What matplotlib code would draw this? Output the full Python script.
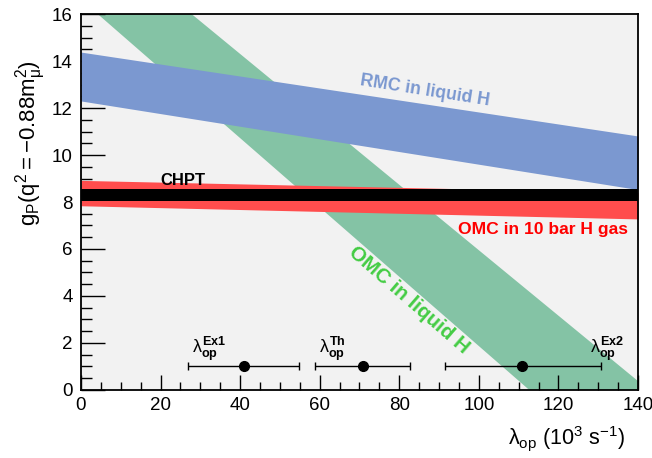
import matplotlib
matplotlib.use("Agg")
import matplotlib.pyplot as plt
from matplotlib.ticker import MultipleLocator
import numpy as np

plt.rcParams['font.family'] = ['Liberation Sans', 'DejaVu Sans']
plt.rcParams['mathtext.fontset'] = 'custom'
plt.rcParams['mathtext.rm'] = 'Liberation Sans'
plt.rcParams['mathtext.it'] = 'Liberation Sans'
plt.rcParams['mathtext.bf'] = 'Liberation Sans:bold'

# ---- data ----
lam = [0, 140]                      # x at band endpoints (1e3 s^-1)
rmc_upper = [14.38, 10.81]
rmc_lower = [12.30, 8.53]
omc_liq_upper = [19.87, 0.38]
omc_liq_lower = [16.62, -4.03]
omc_gas_upper = [8.92, 8.40]
omc_gas_lower = [7.84, 7.28]
chpt_upper = [8.57, 8.57]
chpt_lower = [8.04, 8.04]

lam_points = [40.9, 70.9, 110.8]
lam_err_lo = [13.95, 12.0, 19.4]
lam_err_hi = [13.9, 11.9, 19.8]
gp_points = [1.0, 1.0, 1.0]
point_names = ['Ex1', 'Th', 'Ex2']

fig = plt.figure(figsize=(6.52, 4.58), dpi=100)
ax = fig.add_axes([0.1242, 0.1485, 0.9785 - 0.1242, 0.9694 - 0.1485])
ax.set_facecolor('#f2f2f2')

ax.fill_between(lam, omc_liq_lower, omc_liq_upper, color='#84c3a5', lw=0, zorder=1)
ax.fill_between(lam, rmc_lower, rmc_upper, color='#7b98d0', lw=0, zorder=2)
ax.fill_between(lam, omc_gas_lower, omc_gas_upper, color='#ff4d4d', lw=0, zorder=3)
ax.fill_between(lam, chpt_lower, chpt_upper, color='black', lw=0, zorder=4)

ax.errorbar(lam_points, gp_points, xerr=[lam_err_lo, lam_err_hi], fmt='o', color='black',
            ms=7, elinewidth=1.0, capsize=3, capthick=1.0, zorder=6)

label_x = [27.8, 59.8, 127.9]
for lx, name in zip(label_x, point_names):
    ax.text(lx, 1.75, r'$\lambda_{\mathbf{op}}^{\mathbf{%s}}$' % name, fontsize=13,
            ha='left', va='center', zorder=7)

ax.text(86.5, 12.75, 'RMC in liquid H', color='#7b98d0', fontsize=12.8, fontweight='bold',
        rotation=-9, ha='center', va='center', zorder=7)
ax.text(82.5, 3.85, 'OMC in liquid H', color='#44cc44', fontsize=14.8, fontweight='bold',
        rotation=-41, ha='center', va='center', zorder=7)
ax.text(116.2, 6.85, 'OMC in 10 bar H gas', color='#ff0000', fontsize=12.6, fontweight='bold',
        ha='center', va='center', zorder=7)
ax.text(19.9, 8.9, 'CHPT', color='black', fontsize=12, fontweight='bold',
        ha='left', va='center', zorder=7)

ax.set_xlim(0, 140)
ax.set_ylim(0, 16)
ax.xaxis.set_major_locator(MultipleLocator(20))
ax.xaxis.set_minor_locator(MultipleLocator(5))
ax.yaxis.set_major_locator(MultipleLocator(2))
ax.yaxis.set_minor_locator(MultipleLocator(0.5))
ax.tick_params(axis='x', which='major', direction='in', length=11, width=1, labelsize=13.5, pad=5)
ax.tick_params(axis='x', which='minor', direction='in', length=5.5, width=1)
ax.tick_params(axis='y', which='major', direction='in', length=17, width=1, labelsize=13.5, pad=6)
ax.tick_params(axis='y', which='minor', direction='in', length=8, width=1)
for s in ax.spines.values():
    s.set_linewidth(1.3)
    s.set_zorder(10)

fig.text(31 / 652, 1 - 60 / 458, r'$\mathregular{g_{P}(q^{2} = -0.88m_{\mu}^{2})}$',
         fontsize=16, rotation=90, ha='center', va='top')
fig.text(0.958, 0.012, r'$\lambda_{\mathregular{op}}$ (10$^{3}$ s$^{-1}$)', fontsize=15.5,
         ha='right', va='bottom')

fig.savefig('out.png', dpi=100)
